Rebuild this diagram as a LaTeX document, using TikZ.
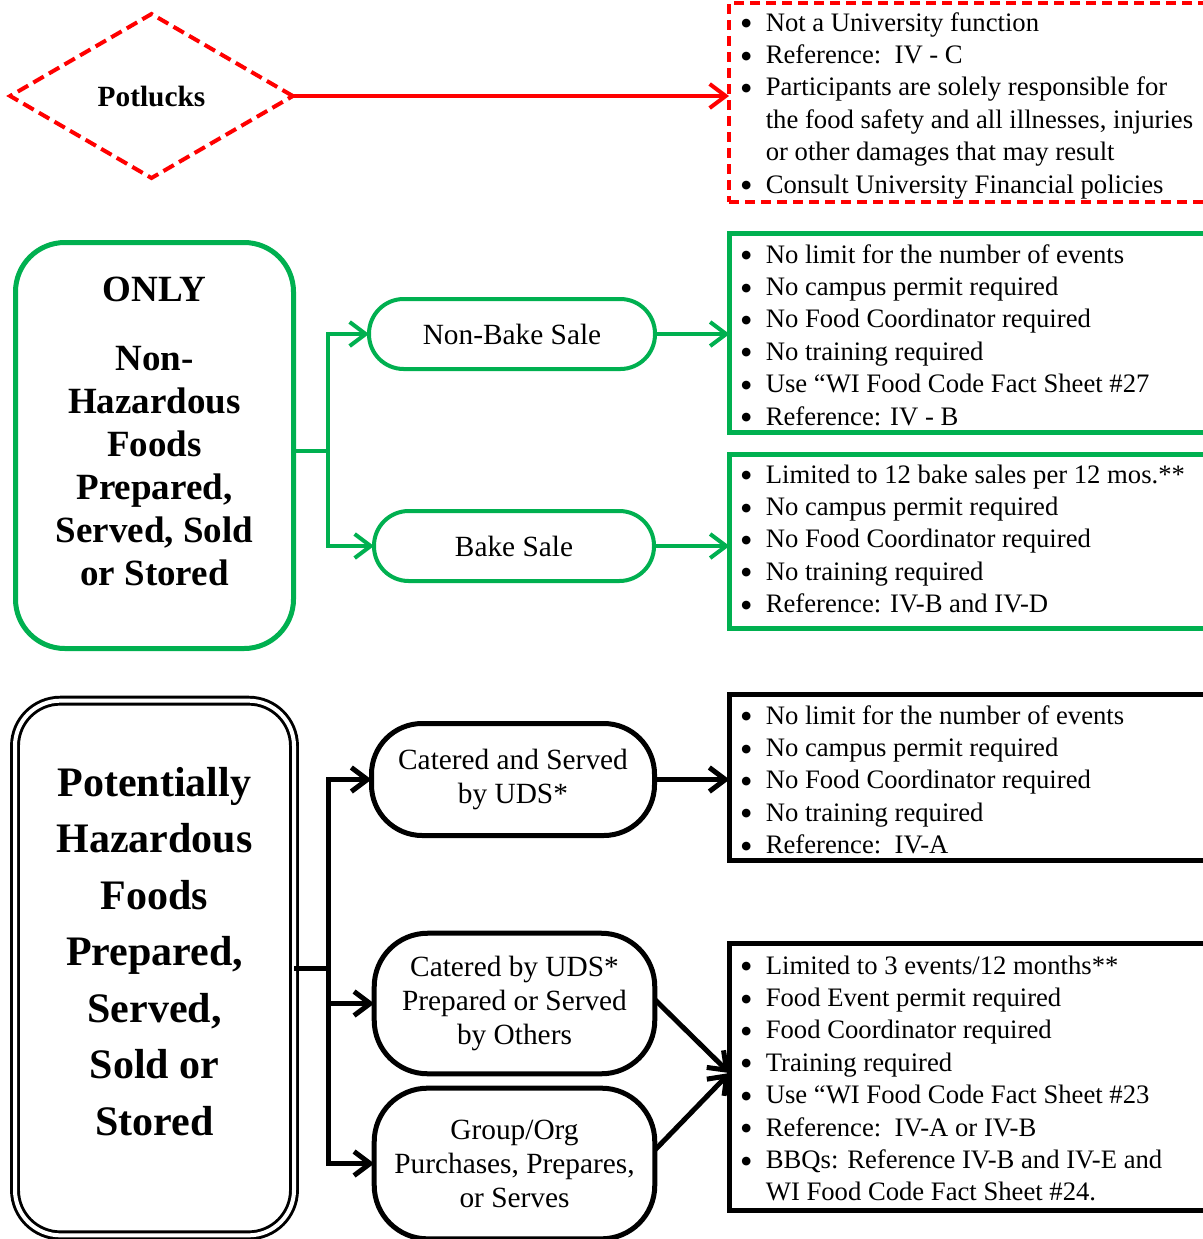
\documentclass[tikz,border=0pt]{standalone}
\usepackage{fontspec}
\setmainfont{Liberation Serif}
\newfontfamily\bulfont{DejaVu Sans}
\usetikzlibrary{arrows.meta,shapes.geometric}
\definecolor{cgreen}{RGB}{0,176,80}
\definecolor{cred}{RGB}{255,0,0}
\newcommand{\listfont}{\fontsize{20}{24.3}\selectfont}
\newcommand{\nodefont}{\fontsize{22}{25.5}\selectfont}
\newcommand{\bl}{\raisebox{3.3pt}{\bulfont\fontsize{8.5}{10}\selectfont ●}}
\begin{document}
\begin{tikzpicture}[x=0.75pt,y=-0.75pt,
  tipA/.style={-{Straight Barb[length=12pt,width=18pt]}},
  boxbase/.style={inner sep=0pt, outer sep=0pt, anchor=north west, minimum width=375pt},
  redbox/.style={boxbase, draw=cred, line width=3pt, dash pattern=on 7.5pt off 4.5pt},
  greenbox/.style={boxbase, draw=cgreen, line width=3.5pt},
  blackbox/.style={boxbase, draw=black, line width=4pt},
  listtext/.style={inner sep=0pt, anchor=base west, font=\listfont},
  gstad/.style={draw=cgreen, line width=3pt, rounded corners=26pt, inner sep=2pt, outer sep=0pt, font=\nodefont, align=center},
  bstad/.style={draw=black, line width=3.75pt, inner sep=2pt, outer sep=0pt, font=\nodefont, align=center},
  garrow/.style={tipA, draw=cgreen, line width=3pt},
  barrow/.style={tipA, draw=black, line width=3.75pt},
  rarrow/.style={tipA, draw=cred, line width=3pt}
]
\useasboundingbox (0,0) rectangle (1203,1239);
\clip (0,0) rectangle (1203,1239);
\fill[white] (0,0) rectangle (1203,1239);

% ---------- Potlucks ----------
\node[diamond, draw=cred, line width=3pt, dash pattern=on 9pt off 4.5pt,
      minimum width=212pt, minimum height=123pt, inner sep=0pt, outer sep=0pt,
      font=\bfseries\fontsize{22}{24}\selectfont] (pot) at (151.5,96) {Potlucks};
\node[redbox, minimum height=149.25pt] (rb) at (729,3) {};
\node[listtext] (rbt) at (741,31) {\begin{tabular}[t]{@{}l@{\hspace{11pt}}l@{}}
\bl & Not a University function\\
\bl & Reference:\ \ IV - C\\
\bl & Participants are solely responsible for\\
    & the food safety and all illnesses, injuries\\
    & or other damages that may result\\
\bl & Consult University Financial policies
\end{tabular}};
\draw[rarrow] (pot.east) -- (pot.east -| rb.west);

% ---------- Non-hazardous ----------
\node[draw=cgreen, line width=3.75pt, rounded corners=37pt, minimum width=208.5pt,
      minimum height=304.5pt, inner sep=0pt, outer sep=0pt] (gbig) at (154.5,445.5) {};
\node[inner sep=0pt, anchor=base, font=\bfseries\fontsize{27.75}{32.25}\selectfont] (gbigt) at (154.5,301)
 {\begin{tabular}[t]{@{}c@{}}ONLY\\[19.5pt] Non-\\ Hazardous\\ Foods\\ Prepared,\\ Served, Sold\\ or Stored\end{tabular}};

\node[gstad, minimum width=214.5pt, minimum height=52.5pt] (nb) at (512,334) {Non-Bake Sale};
\node[gstad, minimum width=210pt, minimum height=52.5pt] (bs) at (514,546) {Bake Sale};

\coordinate (gj) at (328,451);
\draw[cgreen, line width=3pt] (gbig.east |- gj) -- (gj);
\draw[garrow] (gj) |- (nb.west);
\draw[garrow] (gj) |- (bs.west);

\node[greenbox, minimum height=149.25pt] (g1) at (729.5,233.5) {};
\node[greenbox, minimum height=130.5pt] (g2) at (729.5,454.5) {};
\draw[garrow] (nb.east) -- (nb.east -| g1.west);
\draw[garrow] (bs.east) -- (bs.east -| g2.west);

\node[listtext] (g1t) at (741,263) {\begin{tabular}[t]{@{}l@{\hspace{11pt}}l@{}}
\bl & No limit for the number of events\\
\bl & No campus permit required\\
\bl & No Food Coordinator required\\
\bl & No training required\\
\bl & Use “WI Food Code Fact Sheet \#27\\
\bl & Reference: IV - B
\end{tabular}};
\node[listtext] (g2t) at (741,483) {\begin{tabular}[t]{@{}l@{\hspace{11pt}}l@{}}
\bl & Limited to 12 bake sales per 12 mos.**\\
\bl & No campus permit required\\
\bl & No Food Coordinator required\\
\bl & No training required\\
\bl & Reference: IV-B and IV-D
\end{tabular}};

% ---------- Potentially hazardous ----------
\node[draw=black, line width=2.2pt, double, double distance=3pt, rounded corners=34pt,
      minimum width=209.25pt, minimum height=401pt, inner sep=0pt, outer sep=0pt] (bbig) at (154.5,968) {};
\node[inner sep=0pt, anchor=base, font=\bfseries\fontsize{31.5}{42.4}\selectfont] (bbigt) at (154.5,796)
 {\begin{tabular}[t]{@{}c@{}}Potentially\\ Hazardous\\ Foods\\ Prepared,\\ Served,\\ Sold or\\ Stored\end{tabular}};

\node[bstad, rounded corners=38pt, minimum width=212.25pt, minimum height=84pt] (cs) at (513,779.5) {Catered and Served\\ by UDS*};
\node[bstad, rounded corners=40pt, minimum width=210.4pt, minimum height=105.4pt] (cu) at (514.5,1003.5) {Catered by UDS*\\ Prepared or Served\\ by Others};
\node[bstad, rounded corners=40pt, minimum width=210.4pt, minimum height=113pt] (go) at (514.5,1163.5) {Group/Org\\ Purchases, Prepares,\\ or Serves};

\coordinate (bj) at (328,968);
\draw[black, line width=3.75pt] (bbig.east |- bj) -- (bj);
\draw[barrow] (bj) |- (cs.west);
\draw[barrow] (bj) |- (cu.west);
\draw[barrow] (bj) |- (go.west);

\node[blackbox, minimum height=124.5pt] (b1) at (729.5,694.5) {};
\node[blackbox, minimum height=200.25pt] (b2) at (729.5,943.5) {};
\draw[barrow] (cs.east) -- (cs.east -| b1.west);
\draw[barrow] ([yshift=3pt]cu.east) -- ([yshift=3pt]b2.west);
\draw[barrow] ([yshift=10pt]go.east) -- ([yshift=3pt]b2.west);

\node[listtext] (b1t) at (741,724) {\begin{tabular}[t]{@{}l@{\hspace{11pt}}l@{}}
\bl & No limit for the number of events\\
\bl & No campus permit required\\
\bl & No Food Coordinator required\\
\bl & No training required\\
\bl & Reference:\ \ IV-A
\end{tabular}};
\node[listtext] (b2t) at (741,974) {\begin{tabular}[t]{@{}l@{\hspace{11pt}}l@{}}
\bl & Limited to 3 events/12 months**\\
\bl & Food Event permit required\\
\bl & Food Coordinator required\\
\bl & Training required\\
\bl & Use “WI Food Code Fact Sheet \#23\\
\bl & Reference:\ \ IV-A or IV-B\\
\bl & BBQs: Reference IV-B and IV-E and\\
    & WI Food Code Fact Sheet \#24.
\end{tabular}};
\end{tikzpicture}
\end{document}
